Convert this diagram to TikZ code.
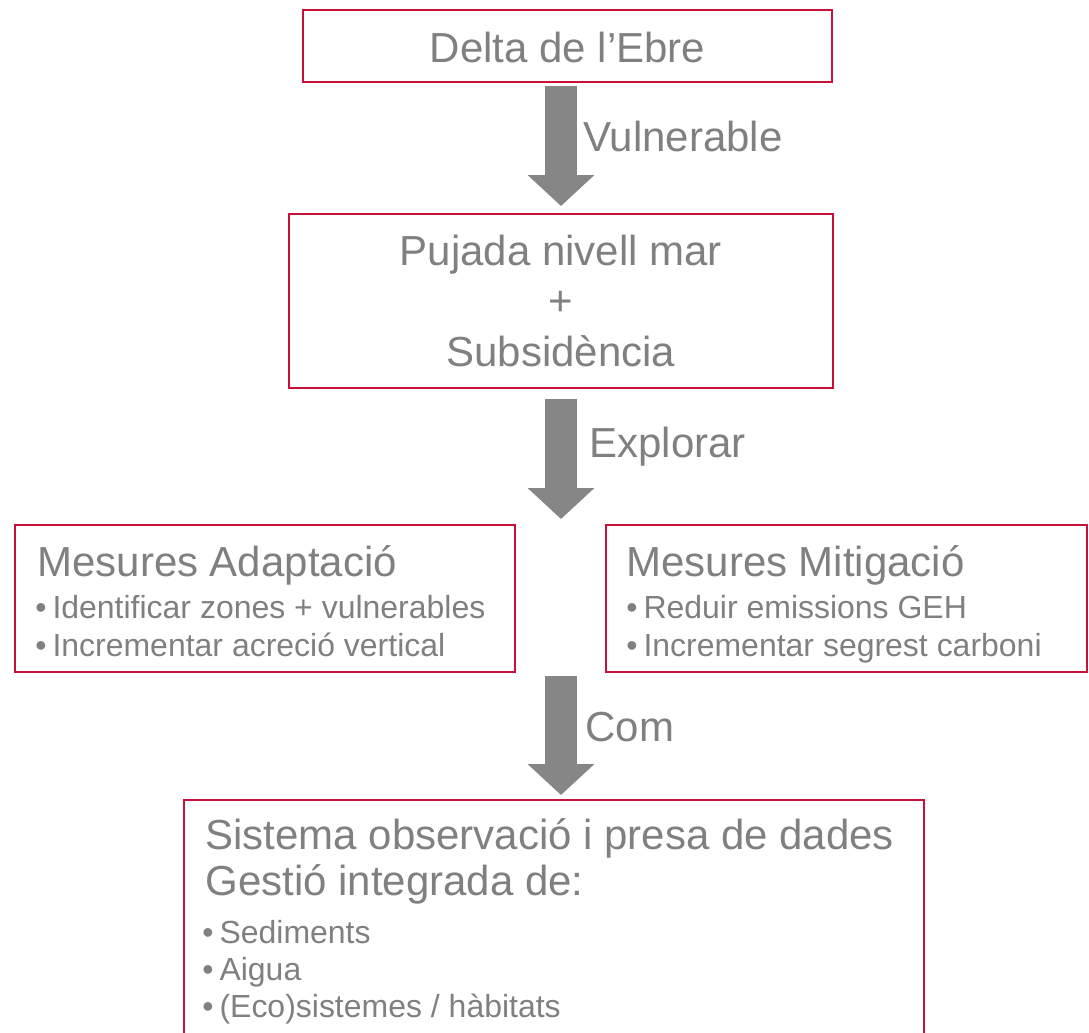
\documentclass[tikz,border=0pt]{standalone}
\usepackage{fontspec}
\setmainfont{Liberation Sans}
\usetikzlibrary{arrows.meta}
\definecolor{boxred}{RGB}{200,16,58}
\definecolor{txtgray}{RGB}{128,128,128}
\definecolor{arrgray}{RGB}{134,134,134}
\begin{document}
\begin{tikzpicture}[x=0.02cm,y=-0.02cm,
    frame/.style={draw=boxred, line width=0.04cm, inner sep=0pt},
    big/.style={text=txtgray, font=\fontsize{23.9}{28}\selectfont, inner sep=0pt},
    item/.style={text=txtgray, font=\fontsize{18.2}{22}\selectfont, inner sep=0pt},
    flow/.style={draw=arrgray, line width=0.64cm, -{Triangle[width=1.3cm,length=0.62cm]}}]
  \useasboundingbox (0,0) rectangle (1089,1033);
  % boxes
  \node[frame, minimum width=10.58cm, minimum height=1.44cm] (delta) at (567.5,46) {};
  \node[frame, minimum width=10.88cm, minimum height=3.48cm] (pujada) at (561,301) {};
  \node[frame, minimum width=10cm, minimum height=2.94cm] (adapt) at (265,598.5) {};
  \node[frame, minimum width=9.62cm, minimum height=2.94cm] (mitig) at (846.5,598.5) {};
  \node[frame, minimum width=14.8cm, minimum height=5.6cm] (sistema) at (554,940) {};
  % texts in the boxes
  \node[big, anchor=base] (deltatxt) at (567.5,63) {Delta de l’Ebre};
  \node[big, anchor=base] (pujtxt) at (561,266) {Pujada nivell mar};
  \node[big, anchor=base] (plus) at (561,316) {+};
  \node[big, anchor=base] (subtxt) at (561,367) {Subsidència};
  \node[big, anchor=base west] (adapttitle) at (37,577) {Mesures Adaptació};
  \node[item, anchor=base west] (adapta) at (35,619) {\textbullet\hspace{0.12cm}Identificar zones + vulnerables};
  \node[item, anchor=base west] (adaptb) at (35,657) {\textbullet\hspace{0.12cm}Incrementar acreció vertical};
  \node[big, anchor=base west] (mitigtitle) at (626,577) {Mesures Mitigació};
  \node[item, anchor=base west] (mitiga) at (626,619) {\textbullet\hspace{0.12cm}Reduir emissions GEH};
  \node[item, anchor=base west] (mitigb) at (626,657) {\textbullet\hspace{0.12cm}Incrementar segrest carboni};
  \node[big, anchor=base west] (sistitle) at (205,849) {Sistema observació i presa de dades};
  \node[big, anchor=base west] (gestio) at (205,895) {Gestió integrada de:};
  \node[item, anchor=base west] (sisa) at (202,943) {\textbullet\hspace{0.12cm}Sediments};
  \node[item, anchor=base west] (sisb) at (202,980) {\textbullet\hspace{0.12cm}Aigua};
  \node[item, anchor=base west] (sisc) at (202,1017) {\textbullet\hspace{0.12cm}(Eco)sistemes / hàbitats};
  % arrows
  \draw[flow, shorten <=0.06cm, shorten >=0.14cm] (delta.south -| pujada.north) -- (pujada.north);
  \draw[flow, shorten <=0.2cm, shorten >=0.1cm] (pujada.south) -- (pujada.south |- adapt.north);
  \draw[flow, shorten <=0.06cm, shorten >=0.08cm] (pujada.south |- adapt.south) -- (pujada.south |- sistema.north);
  \node[big, anchor=base west] (vul) at (583,152) {Vulnerable};
  \node[big, anchor=base west] (expl) at (589,458) {Explorar};
  \node[big, anchor=base west] (com) at (585,742) {Com};
\end{tikzpicture}
\end{document}
